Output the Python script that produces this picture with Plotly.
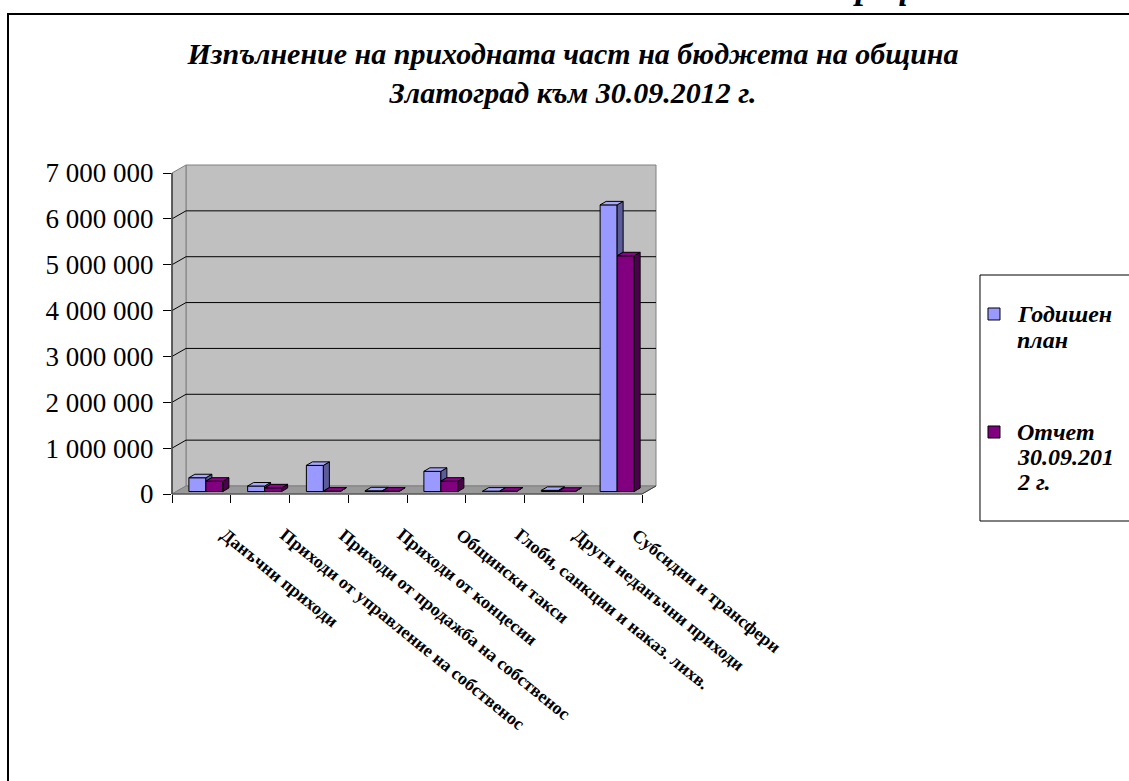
import plotly.graph_objects as go

# ---------------- data ----------------
categories = [
    "Данъчни приходи",
    "Приходи от управление на собственос",
    "Приходи от продажба на собственос",
    "Приходи от концесии",
    "Общински такси",
    "Глоби, санкции и наказ. лихв.",
    "Други неданъчни приходи",
    "Субсидии и трансфери",
]
plan = [300000, 120000, 570000, 15000, 440000, 8000, 25000, 6250000]
report = [225000, 80000, 8000, 8000, 225000, 8000, 5000, 5140000]
series_names = ["Годишен<br>план", "Отчет<br>30.09.201<br>2 г."]
y_tick_values = [0, 1000000, 2000000, 3000000, 4000000, 5000000, 6000000, 7000000]
title_lines = ["Изпълнение на приходната част на бюджета на община",
               "Златоград към 30.09.2012 г."]
header_text = "Графика"

# ---------------- styles / geometry ----------------
W, H = 1129, 781
L, R, T, B = 172, 656, 165, 494          # plot area in px
FRONT_TOP = 173                          # 7 000 000 on the front plane
DX, DY = 14, 8                           # wall depth in px
n = len(categories)
CAT = (R - DX - L) / n                   # px per category
YMAX = y_tick_values[-1]
PY = YMAX / (B - FRONT_TOP)              # value per px

BAR_PX, SHIFT_X, SHIFT_Y, BDX, BDY = 17, 4.5, 2.5, 6, 3.5
colors_front = ["#9999FF", "#800080"]
colors_top = ["#A8A8FF", "#8E008E"]
colors_side = ["#5C5C99", "#4A004A"]
FONT = "Liberation Serif"


def px_x(xd):
    return L + (xd + 0.5) * CAT


def px_y(v):
    return B - v / PY


def pap(x, y):
    return (x - L) / (R - L), (B - y) / (B - T)


def poly(points, fill, color="#808080", width=1, layer="below"):
    pts = [pap(x, y) for x, y in points]
    path = "M " + " L ".join(f"{a:.5f},{b:.5f}" for a, b in pts) + " Z"
    return dict(type="path", path=path, xref="paper", yref="paper",
                fillcolor=fill, line=dict(color=color, width=width), layer=layer)


def seg(p1, p2, color="#000000", width=1, layer="below"):
    a = pap(*p1)
    b = pap(*p2)
    return dict(type="line", x0=a[0], y0=a[1], x1=b[0], y1=b[1], xref="paper", yref="paper",
                line=dict(color=color, width=width), layer=layer)


shapes = []
front_right = px_x(n - 0.5)
# back wall
shapes.append(poly([(L + DX, B - DY), (front_right + DX, B - DY),
                    (front_right + DX, px_y(YMAX) - DY), (L + DX, px_y(YMAX) - DY)], "#C0C0C0"))
# side wall
shapes.append(poly([(L, B), (L + DX, B - DY), (L + DX, px_y(YMAX) - DY), (L, px_y(YMAX))], "#C0C0C0"))
# floor
shapes.append(poly([(L, B), (front_right, B), (front_right + DX, B - DY), (L + DX, B - DY)], "#999999"))
# gridlines
for v in y_tick_values[1:-1]:
    yy = px_y(v)
    shapes.append(seg((L, yy), (L + DX, yy - DY), "#000000", 1))
    shapes.append(seg((L + DX, yy - DY), (front_right + DX, yy - DY), "#000000", 1))
# front axis line and floor edge
shapes.append(seg((L, px_y(YMAX)), (L, B), "#404040", 1.5))
shapes.append(seg((L, B), (front_right, B), "#404040", 1))
shapes.append(seg((front_right, B), (front_right + DX, B - DY), "#404040", 1))

# outer frame
shapes.append(poly([(8, 14), (1145, 14), (1145, 800), (8, 800)], "rgba(0,0,0,0)", "#000000", 2, "above"))

# legend (manual, as in the original)
shapes.append(poly([(980, 275), (1145, 275), (1145, 521), (980, 521)], "rgba(0,0,0,0)", "#000000", 1, "above"))
legend_sq_y = [308, 426]
for k in range(2):
    shapes.append(poly([(988, legend_sq_y[k]), (1000, legend_sq_y[k]), (1000, legend_sq_y[k] + 12),
                        (988, legend_sq_y[k] + 12)], colors_front[k], "#000000", 1, "above"))

# ---------------- traces ----------------
w = BAR_PX / CAT
offsets = [(SHIFT_X - BAR_PX) / CAT, SHIFT_X / CAT]
base = SHIFT_Y * PY
ddx = BDX / CAT
ddy = BDY * PY
series = [plan, report]

fig = go.Figure()
for s, vals in enumerate(series):
    fig.add_trace(go.Bar(
        x=list(range(n)), y=vals, base=base, offset=offsets[s], width=w,
        marker=dict(color=colors_front[s], line=dict(color="#000000", width=1)),
        name=series_names[s].replace("<br>", " "), showlegend=False, hoverinfo="skip"))

for s, vals in enumerate(series):
    tx, ty, sx, sy = [], [], [], []
    for i, v in enumerate(vals):
        xl = i + offsets[s]
        xr = xl + w
        y0 = base
        y1 = base + v
        tx += [xl, xr, xr + ddx, xl + ddx, xl, None]
        ty += [y1, y1, y1 + ddy, y1 + ddy, y1, None]
        lower = y0
        if s == 0:
            lower = max(y0, base + series[1][i])
        if lower < y1:
            sx += [xr, xr + ddx, xr + ddx, xr, xr, None]
            sy += [lower, lower + ddy, y1 + ddy, y1, lower, None]
    fig.add_trace(go.Scatter(x=sx, y=sy, mode="lines", fill="toself", fillcolor=colors_side[s],
                             line=dict(color="#000000", width=1), showlegend=False, hoverinfo="skip"))
    fig.add_trace(go.Scatter(x=tx, y=ty, mode="lines", fill="toself", fillcolor=colors_top[s],
                             line=dict(color="#000000", width=1), showlegend=False, hoverinfo="skip"))

# ---------------- annotations ----------------
annotations = []
LBL_SIZE = 18
for i, c in enumerate(categories):
    ax, ay = pap(px_x(i) + 13, 522)
    annotations.append(dict(text=c, x=ax, y=ay, xref="paper", yref="paper", xanchor="left", yanchor="top",
                            textangle=39, showarrow=False,
                            font=dict(family=FONT, size=LBL_SIZE, color="#000000", weight="bold")))

# legend texts, one annotation per line to control line spacing
legend_line_y = [[314, 340], [432, 457, 482]]
for k in range(2):
    for j, line in enumerate(series_names[k].split("<br>")):
        ax, ay = pap(1015, legend_line_y[k][j])
        annotations.append(dict(text=line, x=ax, y=ay, xref="paper", yref="paper",
                                xanchor="left", yanchor="middle", align="left", showarrow=False,
                                font=dict(family=FONT, size=24, color="#000000", weight="bold",
                                          style="italic")))

hx, hy = pap(832, 8)
annotations.append(dict(text=header_text, x=hx, y=hy, xref="paper", yref="paper", xanchor="left",
                        yanchor="bottom", showarrow=False,
                        font=dict(family=FONT, size=36, color="#000000", weight="bold", style="italic")))

fig.update_layout(
    width=W, height=H, autosize=False,
    margin=dict(l=L, r=W - R, t=T, b=H - B, pad=0),
    paper_bgcolor="#FFFFFF", plot_bgcolor="rgba(0,0,0,0)",
    separators=". ",
    barmode="overlay",
    showlegend=False,
    title=dict(text="<br>".join(title_lines), x=573 / W, xref="container", xanchor="center",
               y=1 - 64 / H, yanchor="top",
               font=dict(family=FONT, size=30, color="#000000", weight="bold", style="italic")),
    xaxis=dict(range=[-0.5, n - 0.5 + DX / CAT], tickvals=[k - 0.5 for k in range(n + 1)],
               showticklabels=False, ticks="outside", ticklen=8, tickcolor="#000000", tickwidth=1,
               showgrid=False, zeroline=False, showline=False, fixedrange=True),
    yaxis=dict(range=[0, YMAX * (B - T) / (B - FRONT_TOP)], tickvals=y_tick_values, tickformat=",d",
               ticks="outside", ticklen=8, tickcolor="#000000", tickwidth=1, ticklabelstandoff=4,
               tickfont=dict(family=FONT, size=27, color="#000000"),
               showgrid=False, zeroline=False, showline=False, fixedrange=True),
    shapes=shapes,
    annotations=annotations,
)

fig.write_html("out.html")
